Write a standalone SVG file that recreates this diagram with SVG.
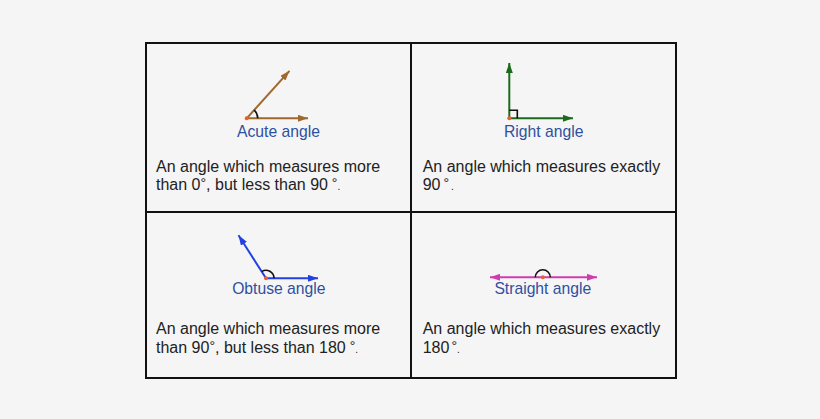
<svg xmlns="http://www.w3.org/2000/svg" width="820" height="419" viewBox="0 0 820 419">
  <style>
    .lbl { font-family: "Liberation Sans", Arial, sans-serif; font-size: 15.7px; fill: #2f4f9f; text-anchor: middle; }
    .desc { font-family: "Liberation Sans", Arial, sans-serif; font-size: 16px; fill: #222222; }
    .deg { font-size: 14px; }
    .dot { font-size: 10px; }
    .arc { fill: none; stroke: #111111; stroke-width: 1.6; }
    .vtx { fill: #e8602c; }
    .grid { fill: none; stroke: #111111; stroke-width: 2; }
  </style>
  <defs>
    <marker id="mBrown" markerUnits="userSpaceOnUse" markerWidth="10" markerHeight="7" refX="10" refY="3.5" orient="auto"><path d="M0,0 L10,3.5 L0,7 z" fill="#a0682c"/></marker>
    <marker id="mGreen" markerUnits="userSpaceOnUse" markerWidth="10" markerHeight="7" refX="10" refY="3.5" orient="auto"><path d="M0,0 L10,3.5 L0,7 z" fill="#1c6a1c"/></marker>
    <marker id="mBlue" markerUnits="userSpaceOnUse" markerWidth="10" markerHeight="7" refX="10" refY="3.5" orient="auto"><path d="M0,0 L10,3.5 L0,7 z" fill="#2142e0"/></marker>
    <marker id="mMag" markerUnits="userSpaceOnUse" markerWidth="10" markerHeight="7" refX="10" refY="3.5" orient="auto-start-reverse"><path d="M0,0 L10,3.5 L0,7 z" fill="#d03cb0"/></marker>
  </defs>
  <rect x="0" y="0" width="820" height="419" fill="#f5f5f5"/>
  <g id="grid">
    <rect class="grid" x="146" y="43" width="530" height="335"/>
    <line class="grid" x1="411" y1="43" x2="411" y2="378"/>
    <line class="grid" x1="146" y1="212" x2="676" y2="212"/>
  </g>
  <g id="acute">
    <line x1="246.7" y1="118.3" x2="308" y2="118.3" stroke="#a0682c" stroke-width="2" marker-end="url(#mBrown)"/>
    <line x1="246.7" y1="118.3" x2="289.5" y2="70.8" stroke="#a0682c" stroke-width="2" marker-end="url(#mBrown)"/>
    <path class="arc" d="M257.7,118.3 A11,11 0 0 0 254.1,110.1"/>
    <circle class="vtx" cx="246.7" cy="118.3" r="2"/>
    <text class="lbl" x="278.5" y="136.7">Acute angle</text>
    <text class="desc" x="156" y="171.7">An angle which measures more</text>
    <text class="desc" x="156" y="190.2">than 0<tspan class="deg" dy="-2">°</tspan><tspan dy="2">, but less than 90</tspan><tspan class="deg" dy="-2"> °</tspan><tspan class="dot" dy="2">.</tspan></text>
  </g>
  <g id="right">
    <line x1="509.3" y1="118.3" x2="509.3" y2="63" stroke="#1c6a1c" stroke-width="2" marker-end="url(#mGreen)"/>
    <line x1="509.3" y1="118.3" x2="573" y2="118.3" stroke="#1c6a1c" stroke-width="2" marker-end="url(#mGreen)"/>
    <path class="arc" d="M509.3,110.3 H517.3 V118.3"/>
    <circle class="vtx" cx="509.3" cy="118.3" r="2"/>
    <text class="lbl" x="543.7" y="136.7">Right angle</text>
    <text class="desc" x="422.7" y="171.7">An angle which measures exactly</text>
    <text class="desc" x="422.7" y="190.2">90<tspan class="deg" dx="3" dy="-2">°</tspan><tspan class="dot" dx="2" dy="2">.</tspan></text>
  </g>
  <g id="obtuse">
    <line x1="266" y1="278.3" x2="318" y2="278.3" stroke="#2142e0" stroke-width="2" marker-end="url(#mBlue)"/>
    <line x1="266" y1="278.3" x2="238.5" y2="235.3" stroke="#2142e0" stroke-width="2" marker-end="url(#mBlue)"/>
    <path class="arc" d="M274,278.3 A8,8 0 0 0 261.7,271.6"/>
    <circle class="vtx" cx="266" cy="278.3" r="2"/>
    <text class="lbl" x="278.8" y="294.3">Obtuse angle</text>
    <text class="desc" x="156" y="334.3">An angle which measures more</text>
    <text class="desc" x="156" y="353.3">than 90<tspan class="deg" dy="-2">°</tspan><tspan dy="2">, but less than 180</tspan><tspan class="deg" dy="-2"> °</tspan><tspan class="dot" dy="2">.</tspan></text>
  </g>
  <g id="straight">
    <line x1="490" y1="277.3" x2="597" y2="277.3" stroke="#d03cb0" stroke-width="2" marker-start="url(#mMag)" marker-end="url(#mMag)"/>
    <path class="arc" d="M550.3,277.3 A7.5,7.5 0 0 0 535.3,277.3"/>
    <circle class="vtx" cx="542.8" cy="277.3" r="2"/>
    <text class="lbl" x="542.8" y="294.3">Straight angle</text>
    <text class="desc" x="422.7" y="334.3">An angle which measures exactly</text>
    <text class="desc" x="422.7" y="353.3">180<tspan class="deg" dx="2" dy="-2">°</tspan><tspan class="dot" dy="2">.</tspan></text>
  </g>
</svg>
